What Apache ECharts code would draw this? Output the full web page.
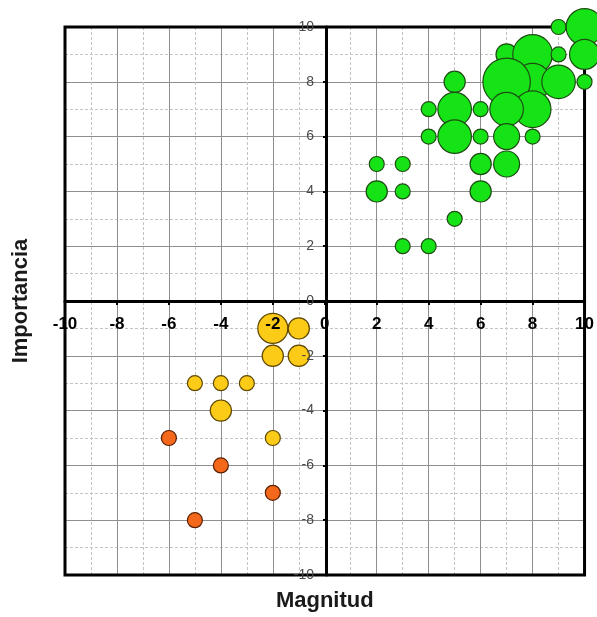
<!DOCTYPE html>
<html>
<head>
<meta charset="utf-8">
<script src="https://cdn.jsdelivr.net/npm/echarts@6/dist/echarts.min.js"></script>
<style>
  html, body { margin: 0; padding: 0; background: #fff; }
  #chart { width: 597px; height: 617px; }
</style>
</head>
<body>
<div id="chart"></div>
<script>
// [magnitud, importancia, peso]
const impactosPositivos = [
  [9, 10, 1], [10, 10, 6],
  [7, 9, 2], [8, 9, 7], [9, 9, 1], [10, 9, 4],
  [5, 8, 2], [8, 8, 6], [9, 8, 5], [10, 8, 1], [7, 8, 10],
  [4, 7, 1], [5, 7, 5], [6, 7, 1], [8, 7, 6], [7, 7, 5],
  [4, 6, 1], [5, 6, 5], [6, 6, 1], [7, 6, 3], [8, 6, 1],
  [2, 5, 1], [3, 5, 1], [6, 5, 2], [7, 5, 3],
  [2, 4, 2], [3, 4, 1], [6, 4, 2],
  [5, 3, 1],
  [3, 2, 1], [4, 2, 1]
]
const impactosModerados = [
  [-2, -1, 4], [-1, -1, 2],
  [-2, -2, 2], [-1, -2, 2],
  [-5, -3, 1], [-4, -3, 1], [-3, -3, 1],
  [-4, -4, 2],
  [-2, -5, 1]
]
const impactosSeveros = [
  [-6, -5, 1], [-4, -6, 1], [-2, -7, 1], [-5, -8, 1]
]
const escalaMin = -10
const escalaMax = 10

// medidas de la rejilla (px)
const rejilla = { left: 65, right: 10, top: 27, bottom: 42 }
const anchoRejilla = 597 - rejilla.left - rejilla.right
const altoRejilla = 617 - rejilla.top - rejilla.bottom

// tamaño de burbuja según el peso
function tamano(val) {
  return 15 * Math.sqrt(val[2])
}

const fuente = 'Liberation Sans, Arial, sans-serif'

// ejes solo para la cuadrícula (debajo de las burbujas)
function ejeCuadricula(extra) {
  return Object.assign({
    type: 'value',
    min: escalaMin,
    max: escalaMax,
    interval: 2,
    z: 0,
    axisLine: { show: false, onZero: false },
    axisTick: { show: false },
    axisLabel: { show: false },
    minorTick: { show: false, splitNumber: 2 },
    splitLine: { show: true, showMinLine: false, showMaxLine: false, lineStyle: { color: '#8e8e8e', width: 1 } },
    minorSplitLine: { show: true, lineStyle: { color: '#c4c4c4', width: 1, type: [3, 2] } }
  }, extra)
}

// ejes con rótulos, desplazados hasta el cero
function ejeRotulado(extra) {
  return Object.assign({
    type: 'value',
    min: escalaMin,
    max: escalaMax,
    interval: 2,
    z: 10,
    axisLine: { show: true, onZero: false, lineStyle: { color: '#000', width: 3 } },
    axisTick: { show: true, length: 4, lineStyle: { color: '#000', width: 2 } },
    splitLine: { show: false }
  }, extra)
}

const chart = echarts.init(document.getElementById('chart'))
chart.setOption({
  animation: false,
  backgroundColor: '#fff',
  grid: Object.assign({
    show: true,
    z: 1,
    borderColor: '#000',
    borderWidth: 3
  }, rejilla),
  xAxis: [
    ejeCuadricula({
      position: 'bottom',
      name: 'Magnitud',
      nameLocation: 'middle',
      nameGap: 15,
      nameTextStyle: { fontFamily: fuente, fontWeight: 'bold', fontSize: 22, color: '#1a1a1a' }
    }),
    ejeRotulado({
      position: 'bottom',
      offset: -altoRejilla / 2,
      axisLabel: {
        margin: 15,
        fontFamily: fuente,
        fontWeight: 'bold',
        fontSize: 17,
        color: '#000',
        showMinLabel: true,
        showMaxLabel: true
      }
    })
  ],
  yAxis: [
    ejeCuadricula({
      position: 'left',
      name: 'Importancia',
      nameLocation: 'middle',
      nameGap: 33,
      nameTextStyle: { fontFamily: fuente, fontWeight: 'bold', fontSize: 22, color: '#1a1a1a' }
    }),
    ejeRotulado({
      position: 'left',
      offset: -anchoRejilla / 2,
      axisTick: { show: true, length: 3, lineStyle: { color: '#000', width: 2 } },
      axisLabel: {
        margin: 12,
        fontFamily: fuente,
        fontSize: 14,
        color: '#4a4a4a',
        showMinLabel: true,
        showMaxLabel: true
      }
    })
  ],
  series: [
    {
      name: 'Positivos',
      type: 'scatter',
      xAxisIndex: 1,
      yAxisIndex: 1,
      clip: false,
      data: impactosPositivos,
      symbolSize: tamano,
      itemStyle: { color: '#16e316', borderColor: '#1d4d12', borderWidth: 1.2, opacity: 1 }
    },
    {
      name: 'Moderados',
      type: 'scatter',
      xAxisIndex: 1,
      yAxisIndex: 1,
      clip: false,
      data: impactosModerados,
      symbolSize: tamano,
      itemStyle: { color: '#fccb17', borderColor: '#5e4700', borderWidth: 1.2, opacity: 1 }
    },
    {
      name: 'Severos',
      type: 'scatter',
      xAxisIndex: 1,
      yAxisIndex: 1,
      clip: false,
      data: impactosSeveros,
      symbolSize: tamano,
      itemStyle: { color: '#f4681c', borderColor: '#5a1e00', borderWidth: 1.2, opacity: 1 }
    }
  ]
})
</script>
</body>
</html>
